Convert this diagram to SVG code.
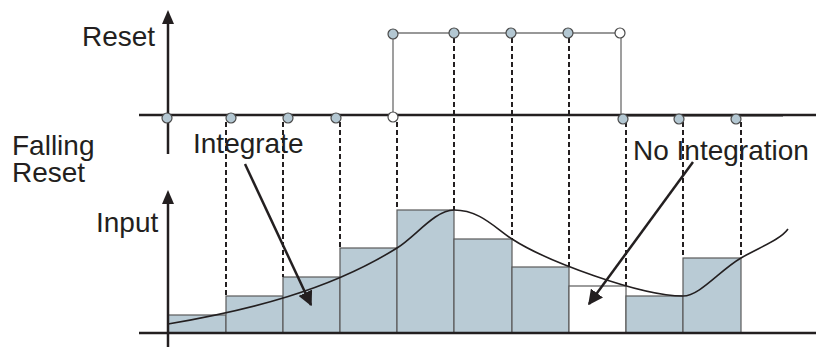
<svg xmlns="http://www.w3.org/2000/svg" width="816" height="348" viewBox="0 0 816 348">
<style>
.t{font-family:"Liberation Sans",Arial,sans-serif;font-size:28px;fill:#231f20}
.ax{stroke:#231f20;stroke-width:2.5;fill:none}
.dash{stroke:#231f20;stroke-width:2;stroke-dasharray:5,3;fill:none}
.bar{fill:#b9cbd5;stroke:#5a5a5a;stroke-width:1.2}
.wbar{fill:#ffffff;stroke:#5a5a5a;stroke-width:1.2}
.dot{fill:#b3c7d2;stroke:#4a4a4a;stroke-width:1.2}
.wdot{fill:#ffffff;stroke:#4a4a4a;stroke-width:1.2}
.sig{stroke:#777;stroke-width:1.4;fill:none}
.arr{stroke:#231f20;stroke-width:2.5;fill:none}
</style>
<defs>
<marker id="ah" viewBox="0 0 10 10" refX="9" refY="5" markerWidth="6" markerHeight="6" orient="auto" markerUnits="strokeWidth">
<path d="M0,0 L10,5 L0,10 z" fill="#231f20"/>
</marker>
</defs>
<g id="bars">
<rect class="bar" x="168" y="315" width="58" height="18"/>
<rect class="bar" x="226" y="296" width="57" height="37"/>
<rect class="bar" x="283" y="277" width="57" height="56"/>
<rect class="bar" x="340" y="248" width="57" height="85"/>
<rect class="bar" x="397" y="210" width="57" height="123"/>
<rect class="bar" x="454" y="239" width="58" height="94"/>
<rect class="bar" x="512" y="267" width="57" height="66"/>
<rect class="wbar" x="569" y="286" width="57" height="47"/>
<rect class="bar" x="626" y="296" width="57" height="37"/>
<rect class="bar" x="683" y="258" width="58" height="75"/>
</g>
<g id="connectors">
<line class="dash" x1="226" y1="122" x2="226" y2="296"/>
<line class="dash" x1="283" y1="122" x2="283" y2="277"/>
<line class="dash" x1="340" y1="122" x2="340" y2="248"/>
<line class="dash" x1="397" y1="122" x2="397" y2="210"/>
<line class="dash" x1="454" y1="38" x2="454" y2="210"/>
<line class="dash" x1="512" y1="38" x2="512" y2="239"/>
<line class="dash" x1="569" y1="38" x2="569" y2="267"/>
<line class="dash" x1="626" y1="122" x2="626" y2="286"/>
<line class="dash" x1="683" y1="122" x2="683" y2="258"/>
<line class="dash" x1="741" y1="122" x2="741" y2="258"/>
<path class="sig" d="M393,116 V33 H621 V116 H783"/>
<path d="M168,324 C250,310 330,290 397,248 C415,237 435,210 454,210 C480,210 495,228 512,239 C546,261 640,296 683,296 C700,296 720,270 741,258 C760,247 780,240 788,229" fill="none" stroke="#231f20" stroke-width="1.6"/>
<line class="arr" x1="245" y1="164" x2="311" y2="305" marker-end="url(#ah)"/>
<line class="arr" x1="693" y1="162" x2="589" y2="304" marker-end="url(#ah)"/>
</g>
<g id="reset-axis">
<line class="ax" x1="139" y1="115" x2="816" y2="115"/>
<line class="ax" x1="168" y1="154" x2="168" y2="20"/>
<path d="M168,10 L174,24 L162,24 z" fill="#231f20"/>
</g>
<g id="input-axis">
<line class="ax" x1="139" y1="333" x2="816" y2="333"/>
<line class="ax" x1="168" y1="347" x2="168" y2="200"/>
<path d="M168,190 L174,204 L162,204 z" fill="#231f20"/>
</g>
<g id="dots">
<circle class="dot" cx="167" cy="118" r="5"/>
<circle class="dot" cx="231" cy="118" r="5"/>
<circle class="dot" cx="288" cy="118" r="5"/>
<circle class="dot" cx="336" cy="118" r="5"/>
<circle class="wdot" cx="393" cy="117" r="5"/>
<circle class="dot" cx="393" cy="34" r="5"/>
<circle class="dot" cx="454" cy="33" r="5"/>
<circle class="dot" cx="511" cy="33" r="5"/>
<circle class="dot" cx="568" cy="33" r="5"/>
<circle class="wdot" cx="620" cy="33" r="5"/>
<circle class="dot" cx="623" cy="119" r="5"/>
<circle class="dot" cx="679" cy="119" r="5"/>
<circle class="dot" cx="736" cy="119" r="5"/>
</g>
<g id="labels">
<text class="t" x="82" y="46">Reset</text>
<text class="t" x="12" y="155">Falling</text>
<text class="t" x="12" y="182">Reset</text>
<text class="t" x="193" y="153">Integrate</text>
<text class="t" x="96" y="232">Input</text>
<text class="t" x="633" y="160">No Integration</text>
</g>
</svg>
